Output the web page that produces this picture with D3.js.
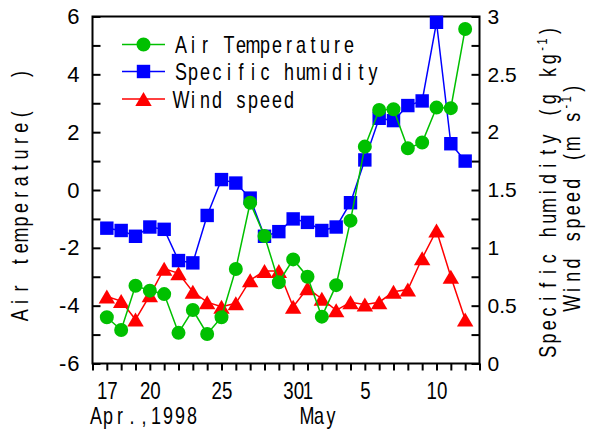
<!DOCTYPE html>
<html><head><meta charset="utf-8">
<script src="https://cdn.jsdelivr.net/npm/d3@7"></script>
<style>body{margin:0;background:#fff;} svg{display:block;}</style>
</head><body>
<svg id="chart" width="600" height="430"></svg>
<script>
// ---------------- data ----------------
const dates = ["1998-04-17","1998-04-18","1998-04-19","1998-04-20","1998-04-21","1998-04-22","1998-04-23",
  "1998-04-24","1998-04-25","1998-04-26","1998-04-27","1998-04-28","1998-04-29","1998-04-30",
  "1998-05-01","1998-05-02","1998-05-03","1998-05-04","1998-05-05","1998-05-06","1998-05-07",
  "1998-05-08","1998-05-09","1998-05-10","1998-05-11","1998-05-12"];
const airTemperature = [-4.40,-4.84,-3.31,-3.48,-3.60,-4.94,-4.15,-4.98,-4.40,-2.73,-0.44,-1.59,-3.19,
  -2.40,-3.00,-4.38,-3.29,-1.06,1.50,2.77,2.79,1.44,1.64,2.85,2.83,5.57];
const specificHumidity = [1.17,1.15,1.10,1.18,1.16,0.89,0.87,1.28,1.59,1.56,1.43,1.10,1.14,
  1.25,1.22,1.15,1.18,1.39,1.76,2.12,2.10,2.23,2.27,2.95,1.90,1.75];
const windSpeed = [0.58,0.54,0.38,0.59,0.82,0.78,0.62,0.53,0.49,0.52,0.72,0.80,0.80,
  0.49,0.65,0.56,0.46,0.53,0.51,0.53,0.62,0.64,0.91,1.15,0.75,0.38];
const xDomain = ["1998-04-16","1998-05-13"];
const xTickLabelDates = ["1998-04-17","1998-04-20","1998-04-25","1998-04-30","1998-05-01","1998-05-05","1998-05-10"];
const xTickLabels = ["17","20","25","30","1","5","10"];
const leftTickValues = [-6,-4,-2,0,2,4,6];
const leftTickLabels = ["-6","-4","-2","0","2","4","6"];
const rightTickValues = [0,0.5,1,1.5,2,2.5,3];
const rightTickLabels = ["0","0.5","1","1.5","2","2.5","3"];
const seriesNames = ["Air Temperature","Specific humidity","Wind speed"];
const monthLabels = ["Apr.,1998","May"];

// ---------------- setup ----------------
const FONT = "'Liberation Sans', Arial, sans-serif";
const svg = d3.select("#chart");
const parse = d3.utcParse("%Y-%m-%d");
const L = 92.5, R = 479.5, T = 16.5, B = 363.5;
const x = d3.scaleUtc().domain(xDomain.map(parse)).range([L, R]);
const yL = d3.scaleLinear().domain([-6, 6]).range([B, T]);
const yR = d3.scaleLinear().domain([0, 3]).range([B, T]);

const COLORS = {temp: "#00c000", hum: "#0000ff", wind: "#ff0000"};

// measuring helper
const measurer = svg.append("text").attr("visibility", "hidden").attr("font-family", FONT).style("white-space", "pre");
function charWidths(str, size) {
  measurer.attr("font-size", size);
  return Array.from(str).map(c => { measurer.text(c); return measurer.node().getComputedTextLength(); });
}
// fixed-cell text (emulating the half-width CJK font used in the original)
function cellText(parent, segments, o) {
  const t = parent.append("text").attr("font-family", FONT).attr("fill", "#000")
    .style("white-space", "pre")
    .attr("transform", `translate(${o.x},${o.y}) rotate(${o.rotate || 0}) scale(${o.sx},1)`);
  let pos = 0;
  segments.forEach(seg => {
    const ws = charWidths(seg.text, seg.size);
    const xs = ws.map((w, i) => ((pos + i * seg.cell + (seg.cell - w * o.sx) / 2) / o.sx).toFixed(2));
    pos += seg.cell * ws.length;
    t.append("tspan").attr("font-size", seg.size).attr("x", xs.join(" ")).attr("dy", seg.dy || 0).text(seg.text);
  });
  return t;
}

// ---------------- axes ----------------
// left minor ticks
svg.append("g").attr("transform", `translate(${L},0)`)
  .call(d3.axisLeft(yL).tickValues(d3.range(-6, 7, 1)).tickSizeInner(-8).tickSizeOuter(0).tickFormat(""))
  .call(g => g.select(".domain").remove())
  .call(g => g.selectAll("line").attr("stroke", "#000").attr("stroke-width", 2));
// left labels
svg.append("g").attr("transform", `translate(${L},0)`)
  .call(d3.axisLeft(yL).tickValues(leftTickValues).tickFormat((d, i) => leftTickLabels[i]).tickSize(0).tickPadding(12))
  .call(g => g.select(".domain").remove())
  .call(g => g.selectAll("text").attr("font-family", FONT).attr("font-size", 22).attr("fill", "#000").attr("letter-spacing", 1));
// right minor ticks
svg.append("g").attr("transform", `translate(${R},0)`)
  .call(d3.axisRight(yR).tickValues(d3.range(0, 3.01, 0.25)).tickSizeInner(-8).tickSizeOuter(0).tickFormat(""))
  .call(g => g.select(".domain").remove())
  .call(g => g.selectAll("line").attr("stroke", "#000").attr("stroke-width", 2));
// right labels
svg.append("g").attr("transform", `translate(${R},0)`)
  .call(d3.axisRight(yR).tickValues(rightTickValues).tickFormat((d, i) => rightTickLabels[i]).tickSize(0).tickPadding(8))
  .call(g => g.select(".domain").remove())
  .call(g => g.selectAll("text").attr("font-family", FONT).attr("font-size", 21).attr("fill", "#000"));
// bottom ticks
svg.append("g").attr("transform", `translate(0,${B})`)
  .call(d3.axisBottom(x).ticks(d3.utcDay.every(1)).tickSizeInner(7).tickSizeOuter(0).tickFormat(""))
  .call(g => g.select(".domain").remove())
  .call(g => g.selectAll("line").attr("stroke", "#000").attr("stroke-width", 2));
// bottom labels
svg.append("g").attr("transform", `translate(0,${B})`)
  .call(d3.axisBottom(x).tickValues(xTickLabelDates.map(parse)).tickFormat((d, i) => xTickLabels[i]).tickSize(0).tickPadding(18))
  .call(g => g.select(".domain").remove())
  .call(g => g.selectAll("text").attr("font-family", FONT).attr("font-size", 24).attr("fill", "#000")
    .attr("transform", "scale(0.78,1)"));

// frame
svg.append("rect").attr("x", L).attr("y", T).attr("width", R - L).attr("height", B - T)
  .attr("fill", "none").attr("stroke", "#000").attr("stroke-width", 2);

// ---------------- series ----------------
const triangleType = {draw(ctx, size) { const w = Math.sqrt(size) / 2, h = w * 0.85;
  ctx.moveTo(0, -h); ctx.lineTo(w, h); ctx.lineTo(-w, h); ctx.closePath(); }};
const series = [
  {name: seriesNames[2], values: windSpeed, y: yR, color: COLORS.wind, sym: triangleType, size: 270},
  {name: seriesNames[1], values: specificHumidity, y: yR, color: COLORS.hum, sym: d3.symbolSquare, size: 180},
  {name: seriesNames[0], values: airTemperature, y: yL, color: COLORS.temp, sym: d3.symbolCircle, size: 154}
];
series.forEach(s => {
  const pts = s.values.map((v, i) => ({d: parse(dates[i]), v}));
  const g = svg.append("g");
  g.append("path").datum(pts).attr("fill", "none").attr("stroke", s.color).attr("stroke-width", 1.5)
    .attr("d", d3.line().x(p => x(p.d)).y(p => s.y(p.v)));
  g.selectAll("path.m").data(pts).join("path").attr("class", "m")
    .attr("transform", p => `translate(${x(p.d)},${s.y(p.v)})`)
    .attr("d", d3.symbol(s.sym, s.size)).attr("fill", s.color);
});

// ---------------- legend ----------------
const legendRows = [
  {name: seriesNames[0], color: COLORS.temp, sym: d3.symbolCircle, size: 154, cy: 44.5, base: 53},
  {name: seriesNames[1], color: COLORS.hum, sym: d3.symbolSquare, size: 180, cy: 71.5, base: 80},
  {name: seriesNames[2], color: COLORS.wind, sym: triangleType, size: 270, cy: 99, base: 108}
];
legendRows.forEach(r => {
  svg.append("line").attr("x1", 122).attr("x2", 165).attr("y1", r.cy).attr("y2", r.cy)
    .attr("stroke", r.color).attr("stroke-width", 1.5);
  svg.append("path").attr("transform", `translate(143.5,${r.cy})`).attr("d", d3.symbol(r.sym, r.size)).attr("fill", r.color);
  cellText(svg, [{text: r.name, size: 23, cell: 12}], {x: 175, y: r.base, sx: 0.78});
});

// ---------------- titles ----------------
cellText(svg, [{text: monthLabels[0], size: 23, cell: 12}], {x: 90, y: 424, sx: 0.78});
cellText(svg, [{text: monthLabels[1], size: 23, cell: 12}], {x: 301, y: 424, sx: 0.78});
cellText(svg, [{text: "Air temperature(  )", size: 23, cell: 13.4}], {x: 28, y: 322, rotate: -90, sx: 0.78});
cellText(svg, [{text: "Specific humidity (g kg", size: 23, cell: 13.3},
  {text: "-1", size: 14, cell: 7.5, dy: -9}, {text: ")", size: 23, cell: 13.3, dy: 9}],
  {x: 556, y: 358.5, rotate: -90, sx: 0.78});
cellText(svg, [{text: "Wind speed (m s", size: 23, cell: 13.3},
  {text: "-1", size: 14, cell: 7.5, dy: -9}, {text: ")", size: 23, cell: 13.3, dy: 9}],
  {x: 579.5, y: 310, rotate: -90, sx: 0.78});
measurer.remove();
</script>
</body></html>
